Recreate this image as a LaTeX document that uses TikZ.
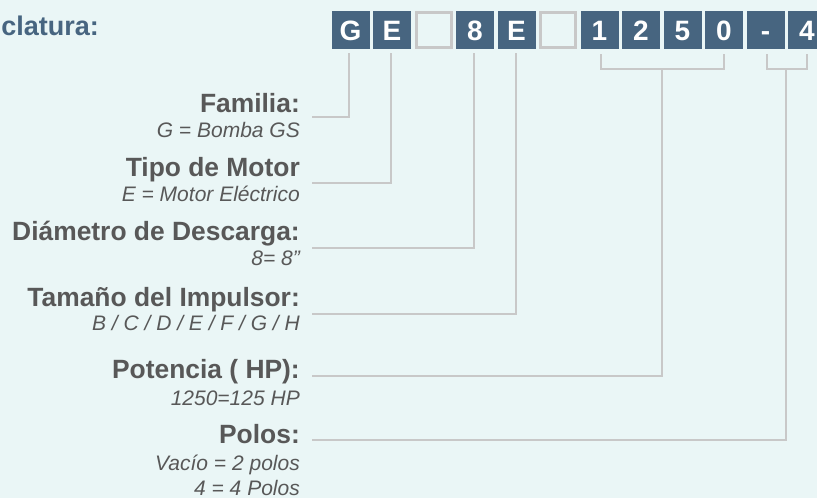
\documentclass[tikz,border=0pt]{standalone}
\usepackage{fontspec}
\setmainfont{Liberation Sans}
\usetikzlibrary{calc}
\definecolor{bg}{RGB}{234,246,246}
\definecolor{boxblue}{RGB}{71,101,128}
\definecolor{linegray}{RGB}{200,200,200}
\definecolor{txtgray}{RGB}{88,88,88}

\begin{document}
\begin{tikzpicture}[x=1pt,y=-1pt,
  code/.style={minimum size=38pt,inner sep=0pt,text height=20pt,text depth=0pt,fill=boxblue,text=white,font=\fontsize{28}{28}\selectfont\bfseries},
  blank/.style={minimum size=35pt,inner sep=0pt,draw=linegray,line width=3pt},
  link/.style={draw=linegray,line width=2pt},
  ttl/.style={anchor=base east,inner sep=0pt,text=txtgray,font=\fontsize{26.4}{30}\selectfont\bfseries},
  sub/.style={anchor=base east,inner sep=0pt,text=txtgray,font=\fontsize{21}{25}\selectfont\itshape}]
\fill[bg] (0,0) rectangle (817,498);
\useasboundingbox (0,0) rectangle (817,498);
\clip (0,0) rectangle (817,498);
\node[anchor=base east,inner sep=0pt,text=boxblue,font=\fontsize{27}{27}\selectfont\bfseries] (head) at (99,35) {clatura:};
% code boxes
\foreach \s/\c [count=\i] in {code/G,code/E,blank/{},code/8,code/E,blank/{},code/1,code/2,code/5,code/0,code/-,code/4}
  \node[style=\s] (b\i) at ({309+41.5*\i},30) {\c};
% line ends
\coordinate (eFam) at (312,117);
\coordinate (eTip) at (312,183);
\coordinate (eDia) at (312,248);
\coordinate (eImp) at (312,314);
\coordinate (ePot) at (312,376);
\coordinate (ePol) at (312,440);
\draw[link] ([xshift=-1.5pt,yshift=-4pt]b1.south) |- (eFam);
\draw[link] ([xshift=-1.5pt,yshift=-4pt]b2.south) |- (eTip);
\draw[link] ([xshift=-1.5pt,yshift=-4pt]b4.south) |- (eDia);
\draw[link] ([xshift=-1pt,yshift=-4pt]b5.south) |- (eImp);
\draw[link] ([xshift=1.5pt,yshift=-5pt]b7.south) |- ([yshift=-20pt]b10.south) -- ([yshift=-5pt]b10.south);
\draw[link] ($(b7.south)!.5!(b10.south)+(0,20)$) |- (ePot);
\draw[link] ([xshift=1.5pt,yshift=-5pt]b11.south) |- ([yshift=-20pt]b12.south) -- ([yshift=-5pt]b12.south);
\draw[link] ($(b11.south)!.5!(b12.south)+(0,20)$) |- (ePol);
% labels
\node[ttl] (tFam) at (300,112) {Familia:};
\node[sub] (sFam) at (300,137) {G = Bomba GS};
\node[ttl] (tTip) at (300,176) {Tipo de Motor};
\node[sub] (sTip) at (300,201.5) {E = Motor Eléctrico};
\node[ttl] (tDia) at (300,240.5) {Diámetro de Descarga:};
\node[sub] (sDia) at (300,265) {8= 8”};
\node[ttl] (tImp) at (300,306.5) {Tamaño del Impulsor:};
\node[sub] (sImp) at (300,330.5) {B / C / D / E / F / G / H};
\node[ttl] (tPot) at (300,378) {Potencia ( HP):};
\node[sub] (sPot) at (300,405) {1250=125 HP};
\node[ttl] (tPol) at (300,443) {Polos:};
\node[sub] (sPolA) at (300,470) {Vacío = 2 polos};
\node[sub] (sPolB) at (300,495) {4 = 4 Polos};
\end{tikzpicture}
\end{document}
